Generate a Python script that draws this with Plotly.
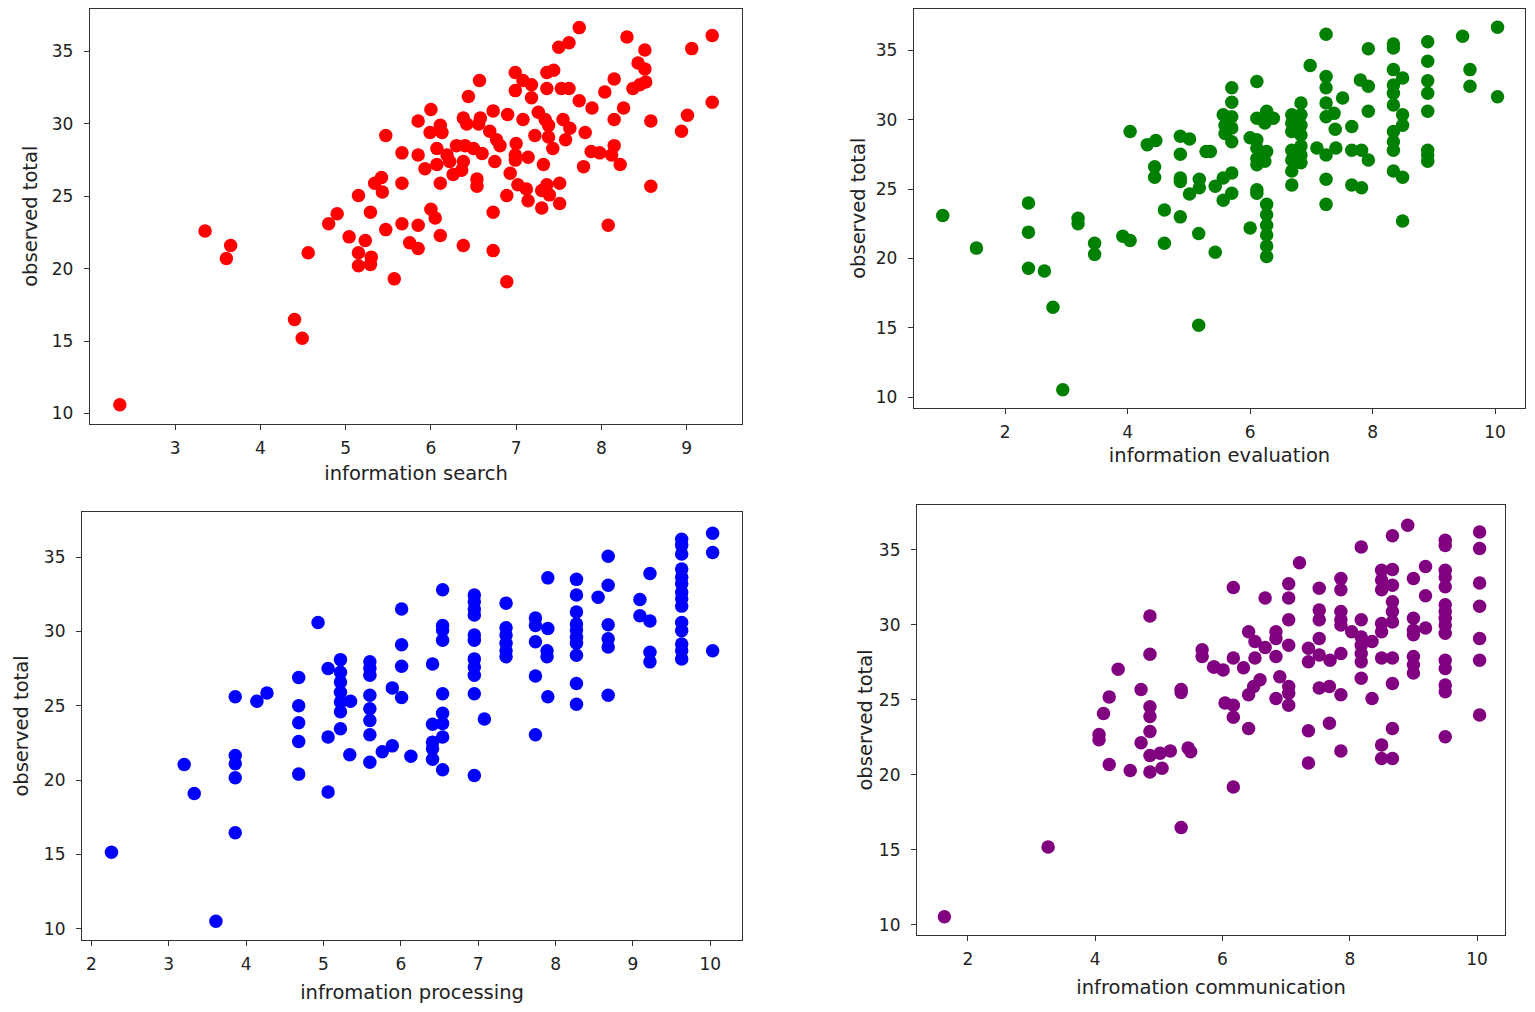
import plotly.graph_objects as go

# information search vs observed total
search_x = [2.35, 3.35, 3.65, 3.6, 4.56, 4.4, 4.49, 5.47, 5.66, 5.85, 5.85, 5.42, 5.34, 5.43, 5.66,
            5.15, 4.9, 4.8, 5.29, 5.47, 5.66, 5.85, 5.04, 5.23, 5.75, 5.85, 5.15, 5.3, 5.15, 5.29,
            5.57, 7.74, 8.3, 9.3, 9.06, 8.51, 7.5, 7.62, 8.43, 8.51, 6.99, 7.36, 7.44, 6.57, 8.15,
            7.08, 7.18, 6.99, 7.36, 7.53, 7.62, 8.04, 8.37, 8.45, 8.52, 6.44, 7.18, 7.74, 7.89, 8.26,
            9.3, 9.01, 8.94, 8.58, 8.15, 6.0, 6.11, 5.99, 6.13, 6.38, 6.58, 6.42, 6.56, 6.73, 6.9,
            7.08, 7.26, 7.34, 7.38, 7.55, 7.63, 6.69, 6.77, 6.81, 7.22, 7.38, 7.81, 7.58, 7.43, 6.07,
            6.19, 6.3, 6.4, 6.5, 6.6, 6.75, 7.0, 6.99, 7.14, 6.99, 7.32, 7.88, 7.98, 8.15, 8.12,
            8.22, 7.79, 5.93, 6.07, 6.22, 6.38, 6.26, 6.36, 6.11, 6.54, 6.54, 6.93, 7.02, 6.89, 7.12,
            7.14, 7.3, 7.3, 7.36, 7.51, 7.51, 7.39, 8.58, 6.0, 6.05, 6.73, 6.11, 6.38, 6.73, 8.08,
            6.89]
search_y = [10.6, 22.6, 21.6, 20.7, 21.1, 16.5, 15.2, 29.2, 28.0, 30.2, 27.85, 26.3, 25.9, 25.3, 25.9,
            25.05, 23.8, 23.1, 23.9, 22.7, 23.1, 23.0, 22.2, 21.95, 21.8, 21.4, 21.1, 20.8, 20.2, 20.3,
            19.3, 36.65, 36.0, 36.1, 35.2, 35.1, 35.3, 35.6, 34.2, 33.8, 33.55, 33.55, 33.7, 33.0, 33.1,
            33.0, 32.7, 32.3, 32.45, 32.45, 32.45, 32.2, 32.45, 32.7, 32.9, 31.9, 31.8, 31.6, 31.1, 31.1,
            31.5, 30.6, 29.5, 30.2, 30.3, 31.0, 29.9, 29.4, 29.4, 30.4, 30.4, 30.0, 30.0, 30.9, 30.65,
            30.3, 30.8, 30.3, 29.9, 30.3, 29.7, 29.5, 28.9, 28.5, 29.2, 29.1, 29.4, 28.9, 28.3, 28.3,
            27.85, 28.5, 28.5, 28.3, 27.95, 27.4, 28.65, 27.85, 27.7, 27.5, 27.2, 28.1, 28.0, 28.5, 27.85,
            27.2, 27.05, 26.9, 27.2, 27.4, 27.4, 26.5, 26.8, 25.9, 26.2, 25.7, 26.6, 25.8, 25.05, 25.5,
            24.7, 25.4, 24.2, 25.8, 25.9, 24.5, 25.1, 25.7, 24.1, 23.5, 23.9, 22.3, 21.6, 21.25, 23.0,
            19.1]

# information evaluation vs observed total
evaluation_x = [0.98, 1.53, 2.38, 2.38, 2.38, 2.64, 2.78, 2.94, 3.19, 3.19, 3.46, 3.46, 3.92, 4.04, 4.04,
                4.32, 4.46, 4.44, 4.44, 4.6, 4.6, 4.86, 5.01, 4.86, 5.28, 4.86, 4.86, 5.17, 5.17, 5.01,
                5.43, 4.86, 5.16, 5.43, 5.16, 5.7, 5.7, 5.56, 5.7, 5.59, 5.7, 5.59, 5.7, 5.35, 5.7,
                5.56, 5.7, 5.56, 6.11, 6.0, 6.11, 6.11, 6.27, 6.38, 6.24, 6.11, 6.27, 6.11, 6.24, 6.11,
                6.11, 6.11, 6.0, 6.27, 6.27, 6.27, 6.27, 6.27, 6.27, 6.83, 6.68, 6.83, 6.68, 6.83, 6.68,
                6.83, 6.83, 6.68, 6.83, 6.68, 6.83, 6.68, 6.68, 6.98, 7.24, 7.24, 7.24, 7.51, 7.24, 7.37,
                7.24, 7.39, 7.09, 7.24, 7.4, 7.24, 7.24, 7.66, 7.66, 7.82, 7.93, 7.66, 7.82, 7.93, 7.8,
                7.93, 7.93, 8.34, 8.34, 8.34, 8.49, 8.34, 8.34, 8.34, 8.49, 8.49, 8.34, 8.34, 8.34, 8.34,
                8.49, 8.49, 8.9, 8.9, 8.9, 8.9, 8.9, 8.9, 8.9, 8.9, 9.47, 9.59, 9.59, 10.04, 10.04]
evaluation_y = [23.1, 20.75, 24.0, 21.9, 19.3, 19.1, 16.5, 10.55, 22.9, 22.5, 21.1, 20.3, 21.6, 21.3, 29.15,
                28.2, 28.5, 26.6, 25.85, 23.5, 21.1, 28.8, 28.6, 27.5, 27.7, 25.8, 25.55, 25.7, 25.1, 24.65,
                25.2, 23.0, 21.8, 20.45, 15.2, 32.3, 31.25, 30.35, 30.2, 29.6, 29.4, 29.0, 28.4, 27.7, 26.15,
                25.8, 24.7, 24.2, 32.75, 28.7, 28.55, 30.1, 30.6, 30.1, 29.75, 27.95, 27.7, 27.2, 27.0, 26.75,
                24.95, 24.7, 22.2, 23.9, 23.15, 22.4, 21.7, 20.9, 20.15, 31.2, 30.35, 30.35, 29.75, 29.6, 29.15,
                28.9, 28.1, 27.8, 27.45, 27.1, 26.9, 26.3, 25.3, 33.9, 36.15, 33.1, 32.3, 31.55, 31.2, 30.45,
                30.2, 29.3, 27.95, 27.45, 27.95, 25.7, 23.9, 29.5, 27.8, 27.8, 27.1, 25.3, 25.1, 35.1, 32.85,
                32.4, 30.6, 35.45, 35.15, 33.6, 33.0, 32.5, 31.9, 31.05, 30.35, 29.6, 29.15, 28.4, 27.8, 26.3,
                25.85, 22.7, 35.6, 34.2, 32.8, 31.9, 30.6, 27.8, 27.45, 27.0, 36.0, 33.6, 32.4, 36.65, 31.65]

# infromation processing vs observed total
processing_x = [2.26, 3.61, 3.2, 3.33, 3.86, 3.86, 3.86, 3.86, 3.86, 4.14, 4.27, 4.68, 4.68, 4.68, 4.68,
                4.68, 4.93, 5.06, 5.22, 5.22, 5.22, 5.22, 5.22, 5.22, 5.35, 5.22, 5.06, 5.06, 5.34, 5.6,
                5.6, 5.6, 5.6, 5.6, 5.6, 5.6, 5.6, 5.76, 5.89, 5.89, 6.01, 6.01, 6.01, 6.01, 6.13,
                6.54, 6.54, 6.54, 6.54, 6.41, 6.54, 6.54, 6.41, 6.54, 6.54, 6.41, 6.41, 6.41, 6.54, 6.95,
                6.95, 6.95, 6.95, 6.95, 6.95, 6.95, 6.95, 6.95, 6.95, 7.08, 6.95, 7.36, 7.36, 7.36, 7.36,
                7.36, 7.36, 7.9, 7.74, 7.74, 7.9, 7.74, 7.89, 7.89, 7.74, 7.9, 7.74, 8.27, 8.27, 8.27,
                8.27, 8.27, 8.27, 8.27, 8.27, 8.27, 8.27, 8.55, 8.68, 8.68, 8.68, 8.68, 8.68, 8.68, 9.09,
                9.22, 9.09, 9.22, 9.22, 9.22, 9.63, 9.63, 9.63, 9.63, 9.63, 9.63, 9.63, 9.63, 9.63, 9.63,
                9.63, 9.63, 9.63, 9.63, 10.03, 10.03, 10.03]
processing_y = [15.15, 10.5, 21.05, 19.1, 25.6, 21.65, 21.1, 20.15, 16.45, 25.3, 25.85, 26.9, 25.0, 23.85, 22.6,
                20.4, 30.6, 27.5, 28.1, 27.25, 26.6, 25.9, 25.25, 24.6, 25.3, 23.45, 22.9, 19.2, 21.7, 27.95,
                27.5, 27.05, 25.7, 24.8, 24.0, 23.05, 21.2, 21.9, 22.3, 26.2, 31.5, 29.1, 27.65, 25.55, 21.6,
                32.8, 30.4, 30.1, 29.4, 27.8, 25.8, 24.5, 23.75, 23.8, 22.9, 22.55, 22.1, 21.4, 20.7, 32.45,
                32.0, 31.5, 31.1, 29.75, 29.4, 28.15, 27.6, 27.05, 25.8, 24.1, 20.3, 31.9, 30.25, 29.75, 29.2,
                28.7, 28.3, 33.6, 30.9, 30.4, 30.2, 29.3, 28.7, 28.3, 27.0, 25.6, 23.05, 33.5, 32.45, 31.3,
                30.5, 30.1, 29.6, 29.2, 28.4, 26.5, 25.1, 32.3, 35.05, 33.1, 30.45, 29.5, 28.95, 25.7, 32.15,
                33.9, 31.05, 30.7, 28.6, 27.95, 36.2, 35.8, 35.2, 34.2, 33.65, 33.2, 32.65, 32.2, 31.7, 30.6,
                30.05, 29.15, 28.7, 28.15, 36.6, 35.3, 28.7]

# infromation communication vs observed total
communication_x = [1.63, 3.26, 4.86, 4.86, 4.36, 4.72, 5.35, 5.35, 4.22, 4.13, 4.06, 4.06, 4.86, 4.86, 4.86,
                   4.72, 4.86, 5.02, 5.18, 5.46, 4.22, 4.55, 4.86, 5.05, 5.35, 5.68, 5.68, 5.86, 6.17, 6.67,
                   7.21, 8.18, 8.67, 8.91, 9.5, 9.5, 10.04, 10.04, 10.04, 10.04, 10.04, 10.04, 10.04, 9.19, 9.0,
                   9.19, 9.5, 9.5, 9.5, 9.5, 9.5, 9.5, 9.5, 9.5, 9.5, 9.5, 9.5, 9.5, 9.5, 9.0,
                   9.0, 9.19, 9.0, 9.0, 9.0, 9.0, 8.5, 8.67, 8.5, 8.67, 8.5, 8.67, 8.67, 8.67, 8.5,
                   8.5, 8.5, 8.67, 8.67, 8.67, 8.5, 8.5, 8.67, 8.18, 8.03, 8.18, 8.35, 8.18, 8.18, 8.18,
                   8.18, 8.35, 7.86, 7.86, 7.86, 7.86, 7.86, 7.86, 7.86, 7.86, 7.68, 7.68, 7.52, 7.52, 7.52,
                   7.52, 7.52, 7.69, 7.52, 7.35, 7.35, 7.35, 7.35, 7.04, 7.04, 7.04, 7.04, 6.84, 6.84, 6.84,
                   6.9, 7.04, 7.04, 6.84, 7.04, 6.41, 6.51, 6.67, 6.51, 6.17, 6.33, 5.87, 6.01, 6.59, 6.49,
                   6.41, 6.04, 6.17, 6.17, 6.41, 6.17, 5.5]
communication_y = [10.55, 15.2, 30.6, 28.05, 27.05, 25.7, 25.7, 25.5, 25.2, 24.1, 22.7, 22.35, 24.55, 23.9, 22.9,
                   22.15, 21.3, 21.45, 21.6, 21.8, 20.7, 20.3, 20.2, 20.45, 16.5, 28.35, 27.9, 27.2, 32.5, 31.8,
                   34.15, 35.2, 35.95, 36.65, 35.65, 35.3, 36.2, 35.1, 32.8, 31.25, 29.1, 27.65, 24.0, 33.9, 33.1,
                   31.95, 33.65, 33.2, 32.55, 31.35, 30.9, 30.45, 30.0, 29.45, 27.65, 27.1, 26.0, 25.55, 22.55, 30.45,
                   29.65, 29.8, 29.35, 27.9, 27.35, 26.8, 33.65, 33.7, 33.0, 32.65, 32.35, 31.55, 30.9, 30.2, 30.1,
                   29.55, 27.8, 27.8, 26.1, 23.1, 22.0, 21.1, 21.1, 30.35, 29.55, 29.2, 28.9, 28.65, 28.1, 27.55,
                   26.45, 25.1, 33.1, 32.35, 30.9, 30.35, 30.0, 28.1, 25.35, 21.6, 25.9, 23.45, 32.45, 31.0, 30.35,
                   29.1, 28.0, 27.65, 25.8, 28.45, 27.55, 22.95, 20.8, 32.75, 31.8, 30.35, 28.65, 29.55, 29.1, 27.9,
                   26.55, 25.9, 25.45, 25.1, 24.65, 29.55, 28.9, 28.5, 27.8, 27.8, 27.15, 27.2, 27.0, 26.35, 25.9,
                   25.35, 24.8, 24.65, 23.85, 23.1, 19.2, 21.55]

# (x, y, colour, x label, x ticks, x range, x domain, y domain, x title standoff, y title standoff)
panels = [
    (search_x, search_y, 'red', 'information search', [3, 4, 5, 6, 7, 8, 9], [2.0, 9.65],
     [0.0537, 0.4807], [0.5857, 0.9995], 9, 8),
    (evaluation_x, evaluation_y, 'green', 'information evaluation', [2, 4, 6, 8, 10], [0.51, 10.49],
     [0.5933, 0.9935], [0.6016, 0.9995], 7, 4),
    (processing_x, processing_y, 'blue', 'infromation processing', [2, 3, 4, 5, 6, 7, 8, 9, 10], [1.88, 10.41],
     [0.0485, 0.4807], [0.0717, 0.498], 12, 10),
    (communication_x, communication_y, 'purple', 'infromation communication', [2, 4, 6, 8, 10], [1.2, 10.44],
     [0.5953, 0.9804], [0.0767, 0.505], 12, 1),
]
y_ranges = [[9.28, 37.97], [9.24, 38.0], [9.24, 38.03], [9.33, 38.0]]

fig = go.Figure()
axis_style = dict(showline=True, mirror=True, linecolor='#333333', linewidth=1.3, showgrid=False,
                  zeroline=False, ticks='outside', ticklen=5, tickwidth=1.2, tickcolor='#333333',
                  tickfont=dict(family='DejaVu Sans', size=17, color='#222222'))
title_font = dict(family='DejaVu Sans', size=19.5, color='#222222')

for i, (xs, ys, col, xlabel, xt, xr, xdom, ydom, xso, yso) in enumerate(panels):
    n = '' if i == 0 else str(i + 1)
    fig.add_trace(go.Scatter(x=xs, y=ys, mode='markers', xaxis='x' + n, yaxis='y' + n,
                             marker=dict(color=col, size=13.5), showlegend=False))
    fig.layout['xaxis' + n] = dict(axis_style, domain=xdom, anchor='y' + n, range=xr, tickvals=xt,
                                   ticklabelstandoff=3,
                                   title=dict(text=xlabel, standoff=xso, font=title_font))
    fig.layout['yaxis' + n] = dict(axis_style, domain=ydom, anchor='x' + n, range=y_ranges[i],
                                   tickvals=[10, 15, 20, 25, 30, 35], ticklabelstandoff=7,
                                   title=dict(text='observed total', standoff=yso, font=title_font))

# page body keeps its default 8px margin, so the figure is 8px smaller on each axis
fig.update_layout(width=1527, height=1004, margin=dict(l=0, r=0, t=0, b=0),
                  plot_bgcolor='white', paper_bgcolor='white')
fig.write_html("out.html")
